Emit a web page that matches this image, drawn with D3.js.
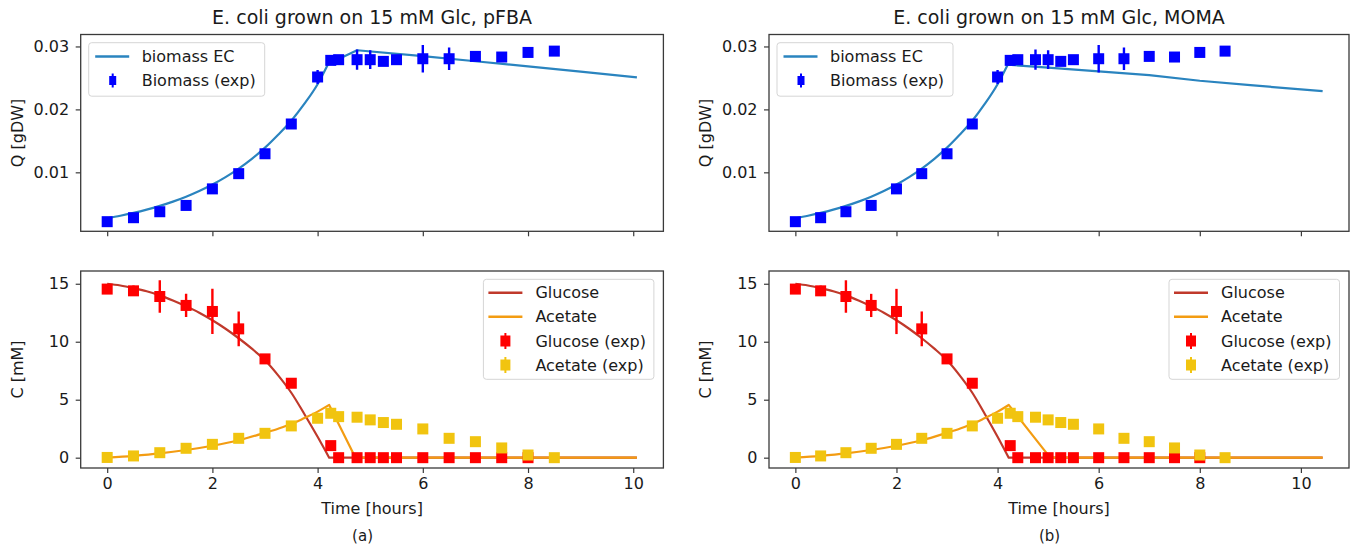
<!DOCTYPE html>
<html>
<head>
<meta charset="utf-8">
<script src="https://cdn.jsdelivr.net/npm/d3@7"></script>
<style>
  html, body { margin: 0; padding: 0; background: #fff; }
  svg { display: block; }
  text { font-family: "DejaVu Sans", sans-serif; fill: #1a1a1a; }
</style>
</head>
<body>
<svg id="chart" width="1355" height="549"></svg>
<script>
// ---------------- DATA ----------------
// experimental sampling times [hours]
const expTime = [0, 0.5, 1, 1.5, 2, 2.5, 3, 3.5, 4, 4.25, 4.4, 4.75, 5, 5.25, 5.5, 6, 6.5, 7, 7.5, 8, 8.5];
// biomass (exp) [gDW] and its error
const biomassExp = [0.00216, 0.00279, 0.00374, 0.00474, 0.00737, 0.00979, 0.01295, 0.01768, 0.02515, 0.02779, 0.0279,
                    0.0279, 0.0279, 0.02763, 0.0279, 0.02805, 0.02805, 0.02842, 0.02832, 0.02905, 0.02926];
const biomassErr = [0.0003, 0.0003, 0.0003, 0.0003, 0.0003, 0.0003, 0.0003, 0.0003, 0.0011, 0.0003, 0.0004,
                    0.0016, 0.0015, 0.0003, 0.0003, 0.0022, 0.0018, 0.0003, 0.0003, 0.0003, 0.0003];
// glucose (exp) [mM]
const glucoseTime = [0, 0.5, 1, 1.5, 2, 2.5, 3, 3.5, 4.25, 4.4, 4.75, 5, 5.25, 5.5, 6, 6.5, 7, 7.5, 8];
const glucoseExp = [14.54, 14.39, 13.9, 13.13, 12.61, 11.11, 8.52, 6.42, 1.04, 0, 0, 0, 0, 0, 0, 0, 0, 0, 0];
const glucoseErr = [0.3, 0.45, 1.4, 1.0, 1.95, 1.5, 0.3, 0.2, 0.15, 0.1, 0.1, 0.1, 0.1, 0.1, 0.1, 0.1, 0.1, 0.1, 0.1];
// acetate (exp) [mM]
const acetateExp = [0.02, 0.15, 0.43, 0.81, 1.15, 1.67, 2.1, 2.74, 3.4, 3.83, 3.54, 3.49, 3.26, 3.03, 2.88, 2.48,
                    1.67, 1.38, 0.84, 0.23, 0.0];
const acetateErr = [0.1, 0.1, 0.1, 0.15, 0.15, 0.2, 0.2, 0.2, 0.25, 0.3, 0.2, 0.2, 0.2, 0.2, 0.2, 0.2, 0.2, 0.2, 0.15, 0.1, 0.1];

// simulated biomass (pFBA / MOMA); the smooth growth phase ends at the kink
const growthTime = [0, 0.25, 0.5, 0.75, 1, 1.25, 1.5, 1.75, 2, 2.25, 2.5, 2.75, 3, 3.25, 3.5, 3.75, 4, 4.2];
const pfbaGrowth = [0.0027, 0.0031, 0.00355, 0.00407, 0.00467, 0.00535, 0.00613, 0.00703, 0.00806, 0.00924, 0.0106,
                    0.01215, 0.01393, 0.01598, 0.0182, 0.0209, 0.024, 0.0272];
const pfbaBiomassLateTime = [4.2, 4.75, 6, 7, 8, 9, 10.07];
const pfbaBiomassLate = [0.0272, 0.0294, 0.02845, 0.02765, 0.02685, 0.026, 0.0251];
const momaGrowth = [0.0027, 0.0031, 0.00355, 0.00407, 0.00467, 0.00535, 0.00613, 0.00703, 0.00806, 0.00924, 0.0106,
                    0.01215, 0.01393, 0.01598, 0.0182, 0.0209, 0.024, 0.0271];
const momaBiomassLateTime = [4.2, 5, 6, 7, 8, 9, 10.43];
const momaBiomassLate = [0.0271, 0.02665, 0.02605, 0.02545, 0.02455, 0.02385, 0.0229];
// simulated glucose (smooth decline, then zero)
const glucoseSimTime = [0, 0.25, 0.5, 0.75, 1, 1.25, 1.5, 1.75, 2, 2.25, 2.5, 2.75, 3, 3.25, 3.5, 3.75, 4, 4.22];
const glucoseSim = [15.0, 14.85, 14.62, 14.35, 14.0, 13.55, 13.05, 12.5, 11.85, 11.12, 10.3, 9.4, 8.4, 7.1, 5.6, 3.75, 1.8, 0];
const pfbaGlucoseLateTime = [4.22, 10.07];
const momaGlucoseLateTime = [4.22, 10.43];
const glucoseLate = [0, 0];
// simulated acetate (smooth rise, then linear drop and zero)
const acetateSimTime = [0, 0.5, 1, 1.5, 2, 2.5, 3, 3.25, 3.5, 3.75, 4, 4.22];
const acetateSim = [0, 0.16, 0.37, 0.66, 1.03, 1.5, 2.15, 2.5, 2.9, 3.42, 3.97, 4.55];
const pfbaAcetateLateTime = [4.22, 4.72, 10.07];
const momaAcetateLateTime = [4.22, 5.04, 10.43];
const acetateLate = [4.55, 0, 0];

// ticks & texts
const xTicks = [0, 2, 4, 6, 8, 10];
const qTicks = [0.01, 0.02, 0.03];
const qTickLabels = ["0.01", "0.02", "0.03"];
const cTicks = [0, 5, 10, 15];
const titles = ["E. coli grown on 15 mM Glc, pFBA", "E. coli grown on 15 mM Glc, MOMA"];
const captions = ["(a)", "(b)"];
const topLegendLabels = ["biomass EC", "Biomass (exp)"];
const bottomLegendLabels = ["Glucose", "Acetate", "Glucose (exp)", "Acetate (exp)"];

// ---------------- STYLE / LAYOUT ----------------
const COL = {
  biomassLine: "#2a84bf", biomassExp: "#0000ff",
  glucoseLine: "#c0392b", acetateLine: "#f39c12",
  glucoseExp: "#ff0000", acetateExp: "#f1c40f",
  frame: "#3a3a3a"
};
const FS = 16;
const panelLayout = [
  { x0: 80.7, x1: 663.4, xdom: [-0.5035, 10.5735] },
  { x0: 769, x1: 1349, xdom: [-0.5215, 10.9515] }
];
const topRow = { y0: 34.5, y1: 231.3, ydom: [0.00063, 0.0319] };
const botRow = { y0: 271, y1: 468, ydom: [-0.89, 16.1] };

const simSets = [
  { gr: pfbaGrowth, bLT: pfbaBiomassLateTime, bL: pfbaBiomassLate, gLT: pfbaGlucoseLateTime, aLT: pfbaAcetateLateTime },
  { gr: momaGrowth, bLT: momaBiomassLateTime, bL: momaBiomassLate, gLT: momaGlucoseLateTime, aLT: momaAcetateLateTime }
];

const svg = d3.select("#chart");
const MS = 11; // marker size

function drawFrame(g, x, y, row, lay, xLabels, yTicks, yFmt) {
  const xa = d3.axisBottom(x).tickValues(xTicks).tickSize(5).tickPadding(5)
    .tickFormat(xLabels ? d3.format("d") : () => "");
  const gx = g.append("g").attr("transform", `translate(0,${row.y1})`).call(xa);
  const ya = d3.axisLeft(y).tickValues(yTicks).tickSize(5).tickPadding(6.5).tickFormat(yFmt);
  const gy = g.append("g").attr("transform", `translate(${lay.x0},0)`).call(ya);
  [gx, gy].forEach(ax => {
    ax.select(".domain").remove();
    ax.selectAll(".tick line").attr("stroke", COL.frame).attr("stroke-width", 1.2);
    ax.selectAll(".tick text").attr("font-size", FS).attr("fill", "#1a1a1a")
      .attr("font-family", "DejaVu Sans, sans-serif");
  });
  g.append("rect").attr("x", lay.x0).attr("y", row.y0)
    .attr("width", lay.x1 - lay.x0).attr("height", row.y1 - row.y0)
    .attr("fill", "none").attr("stroke", COL.frame).attr("stroke-width", 1.3);
}

// smooth part (monotone) + linear part, one path
function drawLine(g, x, y, ts, vs, lts, lvs, color) {
  const smooth = ts.map((t, i) => [t, vs[i]]);
  const lin = lts.map((t, i) => [t, lvs[i]]);
  const d1 = d3.line().x(d => x(d[0])).y(d => y(d[1])).curve(d3.curveMonotoneX)(smooth);
  const d2 = d3.line().x(d => x(d[0])).y(d => y(d[1]))(lin);
  g.append("path").attr("d", d1 + "L" + d2.slice(1))
    .attr("fill", "none").attr("stroke", color).attr("stroke-width", 2.2)
    .attr("stroke-linejoin", "round");
}

function drawErr(g, x, y, ts, vs, es, color) {
  const pts = ts.map((t, i) => ({ t, v: vs[i], e: es[i] }));
  const gg = g.append("g");
  gg.selectAll("line").data(pts).enter().append("line")
    .attr("x1", d => x(d.t)).attr("x2", d => x(d.t))
    .attr("y1", d => y(d.v - d.e)).attr("y2", d => y(d.v + d.e))
    .attr("stroke", color).attr("stroke-width", 2.4);
  gg.selectAll("rect").data(pts).enter().append("rect")
    .attr("x", d => x(d.t) - MS / 2).attr("y", d => y(d.v) - MS / 2)
    .attr("width", MS).attr("height", MS).attr("fill", color);
}

function legendBox(g, x0, y0, w, h) {
  g.append("rect").attr("x", x0).attr("y", y0).attr("width", w).attr("height", h)
    .attr("rx", 3).attr("fill", "#fff").attr("fill-opacity", 0.8)
    .attr("stroke", "#d5d5d5").attr("stroke-width", 1);
}
function legendLine(g, x0, yc, color, label, tx) {
  g.append("line").attr("x1", x0).attr("x2", x0 + 34).attr("y1", yc).attr("y2", yc)
    .attr("stroke", color).attr("stroke-width", 2.4);
  g.append("text").attr("x", tx).attr("y", yc).attr("dy", "0.36em").attr("font-size", FS).text(label);
}
function legendMarker(g, xc, yc, color, label, tx, w, h) {
  g.append("line").attr("x1", xc).attr("x2", xc).attr("y1", yc - h / 2 - 2.5).attr("y2", yc + h / 2 + 2.5)
    .attr("stroke", color).attr("stroke-width", 2);
  g.append("rect").attr("x", xc - w / 2).attr("y", yc - h / 2).attr("width", w).attr("height", h).attr("fill", color);
  g.append("text").attr("x", tx).attr("y", yc).attr("dy", "0.36em").attr("font-size", FS).text(label);
}

panelLayout.forEach((lay, p) => {
  const sim = simSets[p];
  const x = d3.scaleLinear().domain(lay.xdom).range([lay.x0, lay.x1]);
  const cx = (lay.x0 + lay.x1) / 2;

  // ---------- top: biomass ----------
  const yq = d3.scaleLinear().domain(topRow.ydom).range([topRow.y1, topRow.y0]);
  const gt = svg.append("g");
  const clipT = `clipT${p}`;
  svg.append("clipPath").attr("id", clipT).append("rect")
    .attr("x", lay.x0).attr("y", topRow.y0).attr("width", lay.x1 - lay.x0).attr("height", topRow.y1 - topRow.y0);
  const plotT = gt.append("g").attr("clip-path", `url(#${clipT})`);
  drawLine(plotT, x, yq, growthTime, sim.gr, sim.bLT, sim.bL, COL.biomassLine);
  drawErr(plotT, x, yq, expTime, biomassExp, biomassErr, COL.biomassExp);
  drawFrame(gt, x, yq, topRow, lay, false, qTicks, (d, i) => qTickLabels[i]);

  gt.append("text").attr("x", cx).attr("y", 24).attr("text-anchor", "middle")
    .attr("font-size", 19).text(titles[p]);
  gt.append("text").attr("transform", `translate(${lay.x0 - 58},${(topRow.y0 + topRow.y1) / 2}) rotate(-90)`)
    .attr("text-anchor", "middle").attr("font-size", FS).text("Q [gDW]");

  const lx = lay.x0 + 8;
  legendBox(gt, lx, 42.7, 176, 53.5);
  legendLine(gt, lx + 6.5, 56.5, COL.biomassLine, topLegendLabels[0], lx + 53);
  legendMarker(gt, lx + 24, 80.5, COL.biomassExp, topLegendLabels[1], lx + 53, 7, 9);

  // ---------- bottom: concentrations ----------
  const yc = d3.scaleLinear().domain(botRow.ydom).range([botRow.y1, botRow.y0]);
  const gb = svg.append("g");
  const clipB = `clipB${p}`;
  svg.append("clipPath").attr("id", clipB).append("rect")
    .attr("x", lay.x0).attr("y", botRow.y0).attr("width", lay.x1 - lay.x0).attr("height", botRow.y1 - botRow.y0);
  const plotB = gb.append("g").attr("clip-path", `url(#${clipB})`);
  drawLine(plotB, x, yc, glucoseSimTime, glucoseSim, sim.gLT, glucoseLate, COL.glucoseLine);
  drawLine(plotB, x, yc, acetateSimTime, acetateSim, sim.aLT, acetateLate, COL.acetateLine);
  drawErr(plotB, x, yc, glucoseTime, glucoseExp, glucoseErr, COL.glucoseExp);
  drawErr(plotB, x, yc, expTime, acetateExp, acetateErr, COL.acetateExp);
  drawFrame(gb, x, yc, botRow, lay, true, cTicks, d3.format("d"));

  gb.append("text").attr("transform", `translate(${lay.x0 - 58},${(botRow.y0 + botRow.y1) / 2}) rotate(-90)`)
    .attr("text-anchor", "middle").attr("font-size", FS).text("C [mM]");
  gb.append("text").attr("x", cx).attr("y", 514).attr("text-anchor", "middle")
    .attr("font-size", FS).text("Time [hours]");
  gb.append("text").attr("x", cx - 9.5).attr("y", 541).attr("text-anchor", "middle")
    .attr("font-size", 15).attr("font-family", "Liberation Sans, Arial, sans-serif").text(captions[p]);

  const bw = 170.5, bx = lay.x1 - 9.5 - bw;
  legendBox(gb, bx, 279.3, bw, 100);
  const rows = [292.7, 316.7, 341, 365];
  legendLine(gb, bx + 5, rows[0], COL.glucoseLine, bottomLegendLabels[0], bx + 52);
  legendLine(gb, bx + 5, rows[1], COL.acetateLine, bottomLegendLabels[1], bx + 52);
  legendMarker(gb, bx + 22, rows[2], COL.glucoseExp, bottomLegendLabels[2], bx + 52, 10, 11);
  legendMarker(gb, bx + 22, rows[3], COL.acetateExp, bottomLegendLabels[3], bx + 52, 10, 11);
});
</script>
</body>
</html>
